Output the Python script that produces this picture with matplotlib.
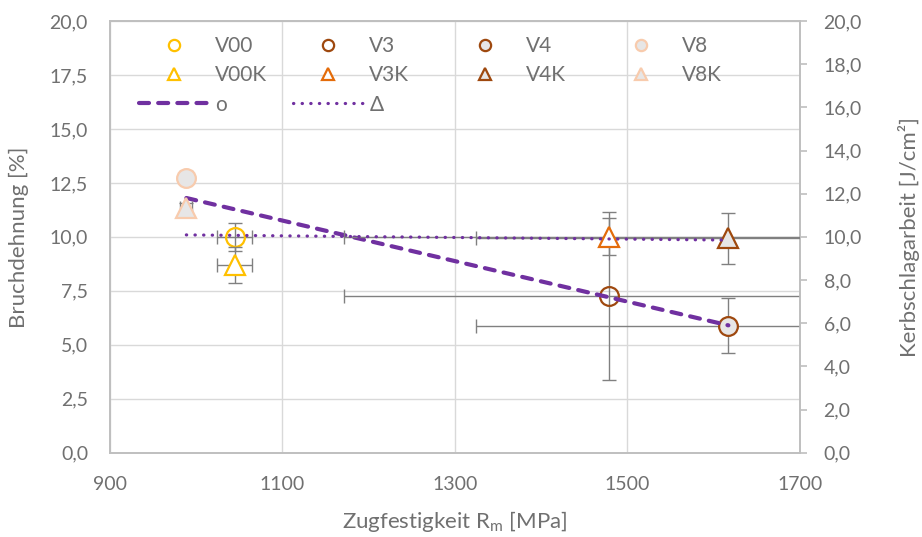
import matplotlib.pyplot as plt
from matplotlib.ticker import MultipleLocator, FuncFormatter

plt.rcParams['font.family'] = ['Lato', 'DejaVu Sans']

# === DATA ===

# Bruchdehnung (circles, left axis)
circle_names = ["V00", "V3", "V4", "V8"]
circle_rm = [1045, 1479, 1617, 989]
circle_rm_err = [20, 307, 292, 7]
circle_a = [10.0, 7.27, 5.88, 12.73]
circle_a_err = [0.66, 3.89, 1.27, 0.3]

# Kerbschlagarbeit (triangles, right axis)
tri_names = ["V00K", "V3K", "V4K", "V8K"]
tri_rm = [1045, 1479, 1617, 989]
tri_rm_err = [20, 307, 292, 7]
tri_k = [8.70, 10.01, 9.93, 11.34]
tri_k_err = [0.83, 0.86, 1.18, 0.25]

# trend lines
trend_o_rm = [989, 1617]
trend_o = [11.80, 5.90]
trend_d_rm = [989, 1617]
trend_d = [10.09, 9.85]

x_ticks = [900, 1100, 1300, 1500, 1700]

# === STYLE ===
edge_c = {"V00": "#FFC000", "V3": "#9E480E", "V4": "#9E480E", "V8": "#F8CBAD",
          "V00K": "#FFC000", "V3K": "#E46C0A", "V4K": "#9E480E", "V8K": "#F8CBAD"}
face_c = {"V00": "none", "V3": "none", "V4": "#E7E6E6", "V8": "#E7E6E6",
          "V00K": "white", "V3K": "white", "V4K": "#E7E6E6", "V8K": "#E7E6E6"}
txt = "#707070"
grid_c = "#D9D9D9"
axis_c = "#BFBFBF"
err_c = "#808080"
purple = "#7030A0"

fmt_de = FuncFormatter(lambda v, p: f"{v:.1f}".replace(".", ","))

fig = plt.figure(figsize=(9.22, 5.37), dpi=100)
ax = fig.add_axes([0.1188, 0.157, 0.7489, 0.8039])
ax2 = ax.twinx()

handles = {}

# circles + errors
for i, n in enumerate(circle_names):
    ax.errorbar(circle_rm[i], circle_a[i], xerr=circle_rm_err[i], yerr=circle_a_err[i],
                fmt="none", ecolor=err_c, elinewidth=1.0, capsize=5, capthick=1.0, zorder=3)
for i, n in enumerate(circle_names):
    h, = ax.plot(circle_rm[i], circle_a[i], "o", ms=13.5, mec=edge_c[n], mfc=face_c[n],
                 mew=1.6, label=n, zorder=4, linestyle="none")
    handles[n] = h

h, = ax.plot(trend_o_rm, trend_o, color=purple, lw=3.0, linestyle=(0, (2.4, 2.2)),
             dash_capstyle="round", label="o", zorder=5)
handles["o"] = h

# triangles + errors
for i, n in enumerate(tri_names):
    ax2.errorbar(tri_rm[i], tri_k[i], xerr=tri_rm_err[i], yerr=tri_k_err[i],
                 fmt="none", ecolor=err_c, elinewidth=1.0, capsize=5, capthick=1.0, zorder=3)
for i, n in enumerate(tri_names):
    h, = ax2.plot(tri_rm[i], tri_k[i], "^", ms=14, mec=edge_c[n], mfc=face_c[n],
                  mew=1.6, label=n, zorder=4, linestyle="none")
    handles[n] = h

h, = ax2.plot(trend_d_rm, trend_d, color=purple, lw=2.3, linestyle=(0, (0.1, 2.6)),
              dash_capstyle="round", label="Δ", zorder=5)
handles["Δ"] = h

# axes
ax.set_xlim(900, 1700)
ax.set_ylim(0, 20)
ax2.set_ylim(0, 20)
ax.set_xticks(x_ticks)
ax.yaxis.set_major_locator(MultipleLocator(2.5))
ax2.yaxis.set_major_locator(MultipleLocator(2.0))
ax.yaxis.set_major_formatter(fmt_de)
ax2.yaxis.set_major_formatter(fmt_de)

ax.grid(True, color=grid_c, lw=1.0, zorder=0)
ax.set_axisbelow(True)

for a in (ax, ax2):
    for s in a.spines.values():
        s.set_color(axis_c)
        s.set_linewidth(1.2)

ax.tick_params(axis="x", length=0, pad=17, labelsize=14, labelcolor=txt)
ax.tick_params(axis="y", length=0, pad=15.5, labelsize=14, labelcolor=txt)
ax2.tick_params(axis="y", length=5, width=1.2, color=axis_c, direction="out",
                pad=12, labelsize=14, labelcolor=txt)

ax.set_xlabel("Zugfestigkeit R$_\\mathregular{m}$ [MPa]", fontsize=16, color=txt, labelpad=11)
ax.set_ylabel("Bruchdehnung [%]", fontsize=16, color=txt, labelpad=15)
ax2.set_ylabel("Kerbschlagarbeit [J/cm²]", fontsize=16, color=txt, labelpad=26)

# legend: four equal-width columns, like the spreadsheet legend
columns = [["V00", "V00K", "o"], ["V3", "V3K", "Δ"], ["V4", "V4K"], ["V8", "V8K"]]
col_x = [139, 293, 450, 606]
for cx, keys in zip(col_x, columns):
    leg = fig.legend([handles[k] for k in keys], keys, ncol=1, frameon=False,
                     loc="upper left", bbox_to_anchor=(cx / 922, 1 - 36 / 537),
                     fontsize=15, markerscale=0.6,
                     handlelength=3.36, handletextpad=0.3,
                     labelspacing=0.45, borderpad=0, borderaxespad=0)
    for t in leg.get_texts():
        t.set_color(txt)

fig.savefig("out.png", dpi=100)
